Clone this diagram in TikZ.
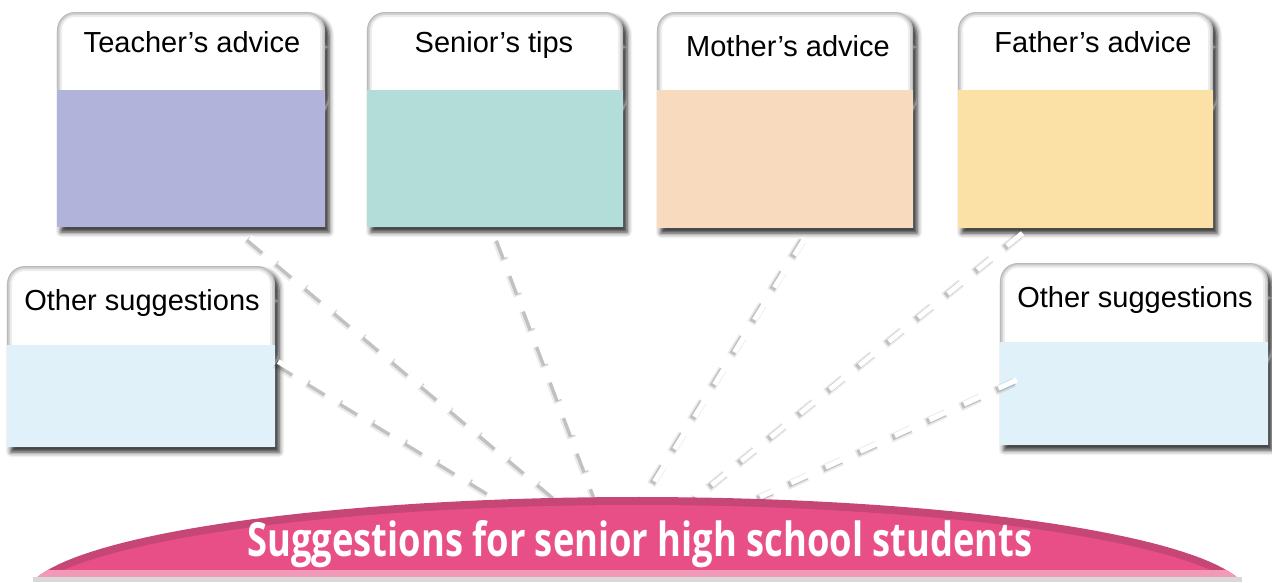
\documentclass[tikz,border=0pt]{standalone}
\usepackage{fontspec}
\setmainfont{Liberation Sans}
\newfontfamily\titlefont{Open Sans}
\usetikzlibrary{shadows.blur,calc,fit}

\definecolor{teachercol}{HTML}{B1B3DA}
\definecolor{seniorcol}{HTML}{B2DDD8}
\definecolor{mothercol}{HTML}{F8DABF}
\definecolor{fathercol}{HTML}{FCE1A6}
\definecolor{othercol}{HTML}{E1F1FA}
\definecolor{domedark}{HTML}{C64775}
\definecolor{domepink}{HTML}{E94F87}
\definecolor{domelight}{HTML}{F299B8}
\definecolor{domegrey}{HTML}{D8D8D8}

\tikzset{
  boardlabel/.style={font=\fontsize{29}{34}\selectfont, anchor=base, inner sep=0pt},
  rayhalo/.style={line width=9pt, draw=black, draw opacity=0.08, dash pattern=on 22pt off 16pt, dash phase=1pt},
  rayshade/.style={line width=6pt, draw=black, draw opacity=0.18, dash pattern=on 20pt off 18pt},
  ray/.style={line width=5pt, draw=white, dash pattern=on 20pt off 18pt},
  boardshadow/.style={blur shadow={shadow xshift=4pt, shadow yshift=-5pt, shadow blur radius=5pt, shadow opacity=85}},
}

% #1 name, #2 left, #3 right, #4 top, #5 colour split, #6 bottom, #7 fill colour
\newcommand\adviceboard[7]{%
  \fill[white, boardshadow]
    [rounded corners=18pt] (#2,#4) rectangle (#3,{#5+20})
    [sharp corners] (#2,{#4+30}) rectangle (#3,#6);
  \begin{scope}
    \clip (#2,#4) rectangle (#3,#5);
    \clip[rounded corners=18pt] (#2,#4) rectangle (#3,{#5+20});
    \draw[line width=10pt, draw opacity=0.07, rounded corners=18pt] (#2,#4) rectangle (#3,{#5+20});
    \draw[line width=6pt, draw opacity=0.10, rounded corners=18pt] (#2,#4) rectangle (#3,{#5+20});
    \draw[line width=2.5pt, draw opacity=0.12, rounded corners=18pt] (#2,#4) rectangle (#3,{#5+20});
  \end{scope}
  \fill[#7] (#2,#5) rectangle (#3,#6);
  \coordinate (#1-nw) at (#2,#4);
  \coordinate (#1-se) at (#3,#6);
  \node[fit=(#1-nw)(#1-se), inner sep=0pt] (#1) {};
}

\begin{document}
\begin{tikzpicture}[x=1pt, y=-1pt]
\useasboundingbox (0,0) rectangle (1272,582);

% points on the top of the title dome where the rays meet it
\coordinate (dome-a) at (500,497);
\coordinate (dome-b) at (558,497);
\coordinate (dome-c) at (598,497);
\coordinate (dome-d) at (645,497);
\coordinate (dome-e) at (697,497);
\coordinate (dome-f) at (760,497);

% boards
\adviceboard{teacher}{57}{325}{12}{90}{227}{teachercol}
\adviceboard{senior}{367}{623}{12}{90}{227}{seniorcol}
\adviceboard{mother}{657}{913}{12}{90}{228}{mothercol}
\adviceboard{father}{958}{1213}{12}{90}{228}{fathercol}
\adviceboard{otherleft}{7}{275}{266}{345}{447}{othercol}
\adviceboard{otherright}{1000}{1268}{263}{342}{445}{othercol}

\node[boardlabel] (teacher-title) at (192,52) {Teacher’s advice};
\node[boardlabel] (senior-title) at (494,52) {Senior’s tips};
\node[boardlabel] (mother-title) at (788,56) {Mother’s advice};
\node[boardlabel] (father-title) at (1093,52) {Father’s advice};
\node[boardlabel] (otherleft-title) at (142,310) {Other suggestions};
\node[boardlabel] (otherright-title) at (1135,307) {Other suggestions};

% ray start points next to the boards
\coordinate (teacher-out) at ($(teacher.south)+(59,10)$);
\coordinate (senior-out) at ($(senior.south)+(5,11)$);
\coordinate (mother-out) at ($(mother.south)+(20,10)$);
\coordinate (father-out) at ($(father.south)+(-63,5)$);
\coordinate (otherleft-out) at ($(otherleft.east)+(3,5)$);
\coordinate (otherright-out) at ($(otherright.west)+(17,26)$);

% dashed rays with a soft shadow
\foreach \s/\e in {otherleft-out/dome-a, teacher-out/dome-b, senior-out/dome-c,
                   mother-out/dome-d, father-out/dome-e, otherright-out/dome-f}{
  \draw[rayhalo, transform canvas={xshift=-3pt, yshift=-2.5pt}] (\s) -- (\e);
  \draw[rayshade, transform canvas={xshift=-2.5pt, yshift=-2pt}] (\s) -- (\e);
  \draw[ray] (\s) -- (\e);
}

% title dome
\begin{scope}
  \clip (36,578) -- plot[domain=169:11, samples=80] ({637+612*cos(\x)}, {597-100*sin(\x)}) -- (1238,578) -- cycle;
  \fill[domedark] (0,480) rectangle (1272,582);
  \fill[domepink] plot[domain=175:5, samples=80] ({637+612*cos(\x)}, {605-100*sin(\x)}) -- cycle;
  \fill[domelight] (0,570) rectangle (1272,578);
\end{scope}
\fill[domegrey] (33,577) rectangle (1242,582);
\node[text=white, anchor=base, inner sep=0pt, font=\titlefont\bfseries] (title) at (640,556)
  {\resizebox{785pt}{36pt}{Suggestions for senior high school students}};

\end{tikzpicture}
\end{document}
